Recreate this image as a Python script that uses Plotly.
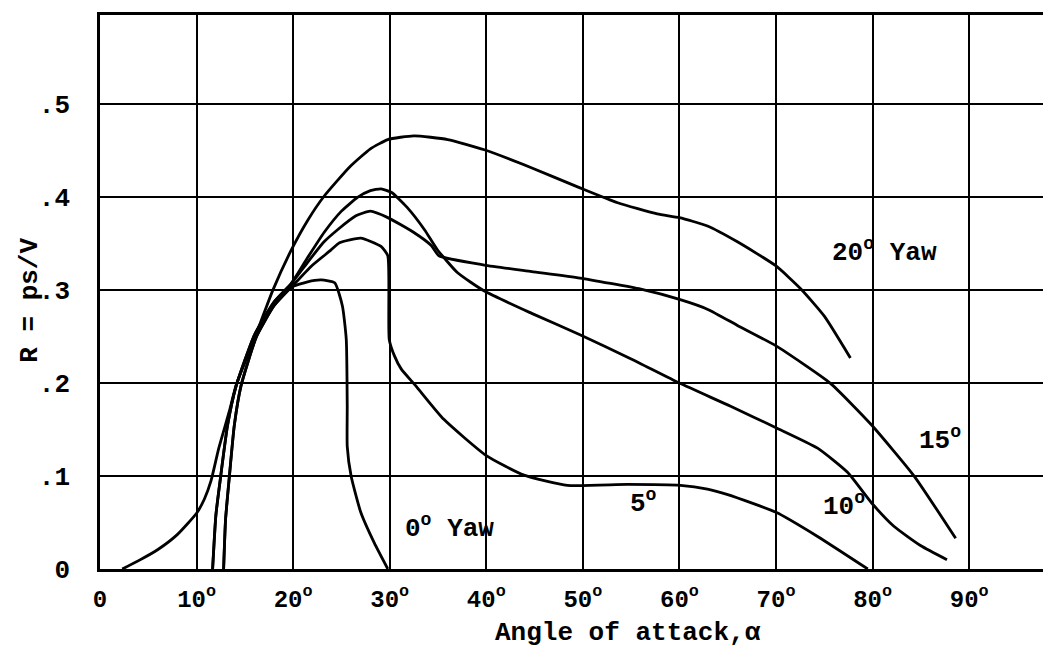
import plotly.graph_objects as go

FONT = "Liberation Mono"

# ---- data ----
yaw20_x = [2.3, 4.0, 6.0, 8.0, 10.0, 10.8, 11.5, 12.3, 13.4, 14.1, 16.0, 17.9, 19.8, 21.5, 23.2,
           25.9, 28.0, 29.8, 32.5, 36.0, 39.8, 44.6, 49.7, 53.6, 57.7, 60.0, 62.9, 66.0, 70.0,
           72.6, 75.0, 77.7]
yaw20_y = [0.0, 0.009, 0.021, 0.037, 0.060, 0.075, 0.095, 0.130, 0.170, 0.198, 0.248, 0.300, 0.343,
           0.375, 0.401, 0.433, 0.452, 0.462, 0.466, 0.462, 0.451, 0.432, 0.410, 0.394, 0.382,
           0.378, 0.369, 0.352, 0.326, 0.301, 0.272, 0.227]

yaw15_x = [11.66, 12.0, 12.5, 13.2, 14.1, 16.0, 18.0, 19.8, 21.5, 23.2, 24.6, 26.5, 28.0, 29.8,
           32.5, 34.3, 35.1, 39.8, 44.7, 49.7, 56.0, 60.0, 63.0, 66.0, 70.0, 75.6, 79.8, 84.3, 88.6]
yaw15_y = [0.0, 0.058, 0.100, 0.154, 0.197, 0.252, 0.287, 0.307, 0.330, 0.352, 0.365, 0.380, 0.385,
           0.378, 0.362, 0.348, 0.337, 0.327, 0.320, 0.313, 0.301, 0.290, 0.279, 0.262, 0.240,
           0.200, 0.156, 0.100, 0.033]

yaw10_x = [11.66, 12.0, 12.5, 13.2, 14.1, 16.0, 18.0, 19.8, 21.5, 23.2, 25.0, 26.7, 28.0, 29.1,
           30.2, 31.8, 33.6, 34.9, 37.0, 39.8, 44.7, 49.7, 55.0, 60.0, 65.3, 70.0, 74.3, 77.4,
           79.9, 82.2, 85.0, 87.7]
yaw10_y = [0.0, 0.058, 0.100, 0.154, 0.197, 0.252, 0.287, 0.307, 0.335, 0.362, 0.385, 0.400, 0.407,
           0.409, 0.405, 0.389, 0.365, 0.344, 0.319, 0.299, 0.275, 0.252, 0.226, 0.200, 0.175,
           0.152, 0.130, 0.104, 0.071, 0.046, 0.025, 0.010]

yaw5_x = [12.8, 13.0, 13.4, 13.9, 14.6, 16.2, 18.0, 19.8, 21.8, 23.9, 24.8, 27.0, 29.1, 29.8,
          29.95, 30.5, 31.2, 32.7, 35.6, 40.0, 43.9, 48.4, 54.6, 60.1, 62.9, 65.0, 70.0, 74.3, 79.5]
yaw5_y = [0.0, 0.053, 0.100, 0.154, 0.197, 0.250, 0.283, 0.303, 0.325, 0.343, 0.351, 0.356, 0.347,
          0.337, 0.247, 0.229, 0.215, 0.197, 0.161, 0.122, 0.101, 0.090, 0.091, 0.090, 0.086,
          0.080, 0.061, 0.035, 0.0]

yaw0_x = [12.8, 13.0, 13.4, 13.9, 14.6, 16.2, 18.0, 19.8, 21.5, 22.9, 24.3, 25.1, 25.5, 25.6,
          25.6, 26.0, 27.0, 28.4, 29.8]
yaw0_y = [0.0, 0.053, 0.100, 0.154, 0.197, 0.250, 0.283, 0.303, 0.309, 0.311, 0.308, 0.283, 0.247,
          0.175, 0.132, 0.100, 0.061, 0.028, 0.0]

x_tickvals = [0, 10, 20, 30, 40, 50, 60, 70, 80, 90]
x_ticktext = ["0"] + [f"{v}<sup>o</sup>" for v in x_tickvals[1:]]
y_tickvals = [0, 0.1, 0.2, 0.3, 0.4, 0.5]
y_ticktext = ["0", ".1", ".2", ".3", ".4", ".5"]

labels_text = ["20<sup>o</sup> Yaw", "15<sup>o</sup>", "10<sup>o</sup>", "5<sup>o</sup>", "0<sup>o</sup> Yaw"]
labels_x = [81.2, 87.0, 77.0, 56.3, 36.2]
labels_y = [0.342, 0.140, 0.069, 0.072, 0.045]

fig = go.Figure()
for xs, ys, nm in [(yaw20_x, yaw20_y, "20"), (yaw15_x, yaw15_y, "15"), (yaw10_x, yaw10_y, "10"),
                   (yaw5_x, yaw5_y, "5"), (yaw0_x, yaw0_y, "0")]:
    fig.add_trace(go.Scatter(x=xs, y=ys, mode="lines", name=nm,
                             line=dict(color="black", width=2.8, shape="spline", smoothing=0.5),
                             showlegend=False, hoverinfo="skip"))

for t, x, y in zip(labels_text, labels_x, labels_y):
    fig.add_annotation(x=x, y=y, text=t, showarrow=False,
                       font=dict(family=FONT, size=26, color="black", weight="bold"),
                       xanchor="center", yanchor="middle")

fig.add_annotation(xref="paper", yref="paper", x=0.551, y=-0.1155, text="Angle of attack,\u03b1",
                   showarrow=False, xanchor="center", yanchor="middle",
                   font=dict(family=FONT, size=26, color="black", weight="bold"))
fig.add_annotation(xref="paper", yref="paper", x=-0.073, y=0.486, text="R = ps/V",
                   showarrow=False, xanchor="center", yanchor="middle", textangle=-90,
                   font=dict(family=FONT, size=26, color="black", weight="bold"))

fig.update_xaxes(range=[0, 99.3], tickvals=x_tickvals, ticktext=x_ticktext,
                 showgrid=True, gridcolor="black", gridwidth=2,
                 showline=True, linecolor="black", linewidth=2.5, mirror=True,
                 zeroline=False, ticks="", ticklabelstandoff=6,
                 tickfont=dict(family=FONT, size=24, color="black", weight="bold"))
fig.update_yaxes(range=[0, 0.596], tickvals=y_tickvals, ticktext=y_ticktext,
                 showgrid=True, gridcolor="black", gridwidth=2,
                 showline=True, linecolor="black", linewidth=2.5, mirror=False,
                 zeroline=False, ticks="", ticklabelstandoff=22,
                 tickfont=dict(family=FONT, size=26, color="black", weight="bold"))

fig.update_layout(width=1051, height=647, margin=dict(l=92, r=0, t=7, b=86),
                  plot_bgcolor="white", paper_bgcolor="white")

fig.write_html("out.html")
